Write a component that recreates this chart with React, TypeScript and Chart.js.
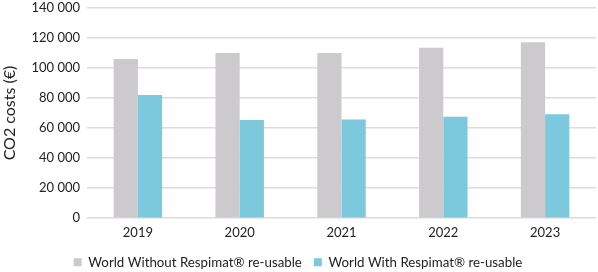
import React, { useEffect, useRef } from "react";
import { Chart, registerables } from "chart.js";

Chart.register(...registerables);

const categories = ["2019", "2020", "2021", "2022", "2023"];
const withoutRespimat = [106000, 110000, 110000, 113500, 117000];
const withRespimat = [82000, 65300, 65700, 67500, 69200];
const seriesNames = ["World Without Respimat® re-usable", "World With Respimat® re-usable"];
const yTitle = "CO2 costs (€)";

export default function App() {
  const ref = useRef<HTMLCanvasElement>(null);
  useEffect(() => {
    const font = "Lato, 'Open Sans', sans-serif";
    const chart = new Chart(ref.current!, {
      type: "bar",
      data: {
        labels: categories,
        datasets: [
          {
            label: seriesNames[0],
            data: withoutRespimat,
            backgroundColor: "#cccacc",
            barPercentage: 1,
            categoryPercentage: 0.476,
          },
          {
            label: seriesNames[1],
            data: withRespimat,
            backgroundColor: "#7cc8dc",
            barPercentage: 1,
            categoryPercentage: 0.476,
          },
        ],
      },
      options: {
        animation: false,
        responsive: false,
        maintainAspectRatio: false,
        layout: { padding: { top: 7, right: 2, left: 0, bottom: -7 } },
        plugins: {
          legend: {
            position: "bottom",
            labels: {
              boxWidth: 8,
              boxHeight: 8,
              padding: 12,
              color: "#222",
              font: { family: font, size: 13.3 },
            },
          },
          tooltip: { enabled: false },
        },
        scales: {
          x: {
            grid: { display: false, drawTicks: false },
            border: { display: false },
            ticks: { color: "#222", font: { family: font, size: 13 }, padding: 6.5 },
            afterFit: (s: any) => {
              s.height = 25.5;
            },
          },
          y: {
            min: 0,
            max: 140000,
            grid: { color: "#dcdcdc", lineWidth: 1.5, drawTicks: true, tickLength: 7, tickColor: "rgba(0,0,0,0)" },
            border: { display: false },
            ticks: {
              stepSize: 20000,
              padding: 0,
              color: "#222",
              font: { family: font, size: 13 },
              callback: (v: any) => Number(v).toLocaleString("en-US").replace(/,/g, " "),
            },
            title: {
              display: true,
              text: yTitle,
              color: "#222",
              font: { family: font, size: 16 },
              padding: { top: 0, bottom: 4 },
            },
            afterFit: (s: any) => {
              s.width = 87;
            },
          },
        },
      },
    });
    return () => chart.destroy();
  }, []);
  return (
    <div style={{ position: "fixed", left: 0, top: 0, width: 598, height: 272, background: "#fff" }}>
      <canvas ref={ref} width={598} height={272} style={{ width: 598, height: 272 }} />
    </div>
  );
}
